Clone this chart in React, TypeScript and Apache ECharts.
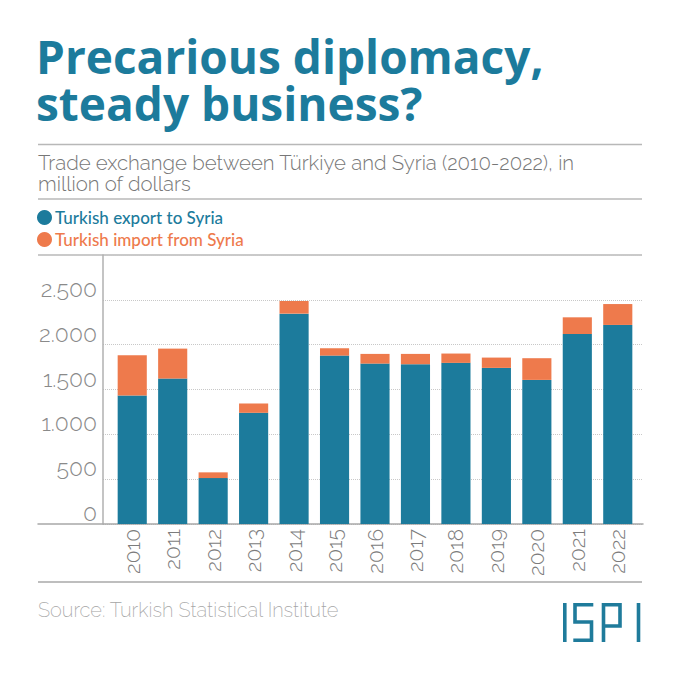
import React, { useEffect, useRef } from "react";
import * as echarts from "echarts";

const years = ["2010", "2011", "2012", "2013", "2014", "2015", "2016", "2017", "2018", "2019", "2020", "2021", "2022"];
const exportValues = [1433, 1622, 512, 1240, 2346, 1878, 1789, 1782, 1797, 1741, 1607, 2119, 2220];
const importValues = [449, 334, 64, 104, 141, 82, 108, 115, 104, 115, 242, 186, 233];
const seriesNames = ["Turkish export to Syria", "Turkish import from Syria"];
const yMin = 0;
const yMax = 3000;
const yStep = 500;

const TEAL = "#1c7b9c";
const ORANGE = "#ee7a4c";
const LIGHT = "Raleway, Inter, 'Open Sans', sans-serif";

function fmt(v: number): string {
  if (v >= yMax) return "";
  if (v < 1000) return String(v);
  const th = Math.floor(v / 1000);
  const rest = String(v % 1000).padStart(3, "0");
  return th + "." + rest;
}

export default function App() {
  const ref = useRef<HTMLDivElement>(null);
  useEffect(() => {
    document.body.style.margin = "0";
    const chart = echarts.init(ref.current!, undefined, { renderer: "svg" });
    const top = 255;
    const bottom = 680 - 524;
    const titleStyle = { fontFamily: "'Open Sans', Lato, sans-serif", fontWeight: "bold", fontSize: 46, lineHeight: 44, color: TEAL };
    const subStyle = { fontFamily: LIGHT, fontWeight: 350, fontSize: 20.4, lineHeight: 19, color: "#777777" };
    chart.setOption({
      animation: false,
      backgroundColor: "#ffffff",
      title: [
        { text: "Precarious diplomacy,", left: 36, top: 33.5, padding: 0, textStyle: titleStyle },
        { text: "steady business?", left: 36, top: 80.5, padding: 0, textStyle: titleStyle },
        { text: "Trade exchange between Türkiye and Syria (2010-2022), in", left: 38, top: 153, padding: 0, textStyle: subStyle },
        { text: "million of dollars", left: 38, top: 174, padding: 0, textStyle: subStyle },
      ],
      legend: {
        orient: "vertical",
        left: 37,
        top: 209,
        padding: 0,
        itemWidth: 15,
        itemHeight: 15,
        itemGap: 5,
        icon: "circle",
        data: [
          { name: seriesNames[0], textStyle: { color: TEAL } },
          { name: seriesNames[1], textStyle: { color: ORANGE } },
        ],
        textStyle: { fontFamily: "Lato, Inter, sans-serif", fontWeight: 500, fontSize: 17, lineHeight: 17, padding: [0, 0, 0, -2] },
      },
      grid: [
        { left: 38, right: 37, top, bottom },
        { left: 103, right: 37, top, bottom },
        { left: 112, right: 42, top, bottom },
      ],
      xAxis: [
        {
          gridIndex: 0,
          type: "value",
          min: 0,
          max: 1,
          axisLine: { show: true, lineStyle: { color: "#a8a8a8", width: 1.5 } },
          axisTick: { show: false },
          axisLabel: { show: false },
          splitLine: { show: false },
        },
        {
          gridIndex: 1,
          type: "value",
          min: 0,
          max: 1,
          show: false,
        },
        {
          gridIndex: 2,
          type: "category",
          data: years,
          axisLine: { show: false },
          axisTick: { show: false },
          axisLabel: { rotate: 90, margin: 5, fontFamily: LIGHT, fontWeight: 300, fontSize: 21, color: "#7c7c7c" },
        },
      ],
      yAxis: [
        { gridIndex: 0, type: "value", min: yMin, max: yMax, interval: yStep, show: false },
        {
          gridIndex: 1,
          type: "value",
          min: yMin,
          max: yMax,
          interval: yStep,
          axisLine: { show: true, lineStyle: { color: "#b0b0b0", width: 1.5 } },
          axisTick: { show: false },
          axisLabel: {
            formatter: fmt,
            verticalAlign: "bottom",
            margin: 6,
            fontFamily: LIGHT,
            fontWeight: 300,
            fontSize: 23,
            color: "#8a8a8a",
          },
          splitLine: { show: true, lineStyle: { color: "#c8c8c8", type: "dotted", width: 1 } },
        },
        { gridIndex: 2, type: "value", min: yMin, max: yMax, interval: yStep, show: false },
      ],
      series: [
        {
          name: seriesNames[0],
          type: "bar",
          stack: "trade",
          xAxisIndex: 2,
          yAxisIndex: 2,
          barWidth: "72%",
          itemStyle: { color: TEAL },
          data: exportValues,
        },
        {
          name: seriesNames[1],
          type: "bar",
          stack: "trade",
          xAxisIndex: 2,
          yAxisIndex: 2,
          barWidth: "72%",
          itemStyle: { color: ORANGE },
          data: importValues,
        },
      ],
      graphic: [
        { type: "line", shape: { x1: 38, y1: 144.5, x2: 642, y2: 144.5 }, style: { stroke: "#b8b8b8", lineWidth: 1.5 } },
        { type: "line", shape: { x1: 38, y1: 199, x2: 642, y2: 199 }, style: { stroke: "#b8b8b8", lineWidth: 1.5 } },
        { type: "line", shape: { x1: 38, y1: 255, x2: 642, y2: 255 }, style: { stroke: "#b8b8b8", lineWidth: 1.5 } },
        { type: "line", shape: { x1: 38, y1: 582, x2: 642, y2: 582 }, style: { stroke: "#a8a8a8", lineWidth: 1.5 } },
        {
          type: "text",
          left: 38,
          top: 600,
          style: { text: "Source: Turkish Statistical Institute", font: `200 20px ${LIGHT}`, fill: "#a5a5a5" },
        },
        {
          type: "group",
          x: 563,
          y: 603,
          children: [
            { type: "rect", shape: { x: 0, y: 0, width: 3.6, height: 39 }, style: { fill: "#1f7b9b" } },
            {
              type: "polyline",
              shape: { points: [[30.3, 1.8], [12, 1.8], [12, 19], [28.5, 19], [28.5, 37.2], [10.3, 37.2]] },
              style: { stroke: "#1f7b9b", lineWidth: 3.6, fill: null, lineJoin: "miter" },
            },
            {
              type: "polyline",
              shape: { points: [[40.5, 39], [40.5, 1.8], [57, 1.8], [57, 23], [40.5, 23]] },
              style: { stroke: "#1f7b9b", lineWidth: 3.6, fill: null, lineJoin: "miter" },
            },
            { type: "rect", shape: { x: 73.7, y: 0, width: 3.6, height: 39 }, style: { fill: "#1f7b9b" } },
          ],
        },
      ],
    });
    return () => chart.dispose();
  }, []);
  return <div ref={ref} style={{ position: "absolute", left: 0, top: 0, width: 680, height: 680 }} />;
}
